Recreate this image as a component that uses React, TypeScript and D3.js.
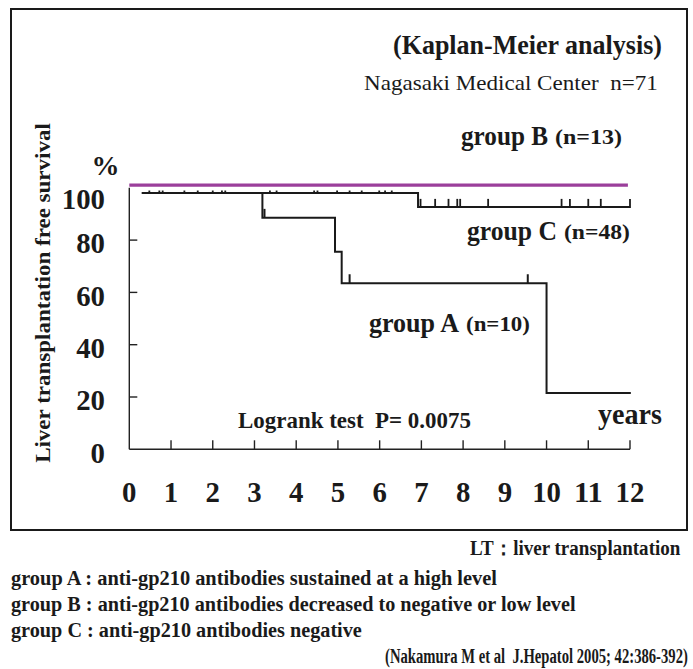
import React, { useEffect, useRef } from 'react';
import * as d3 from 'd3';

// x axis ticks (years) and y axis ticks (%)
const yearTicks = [0, 1, 2, 3, 4, 5, 6, 7, 8, 9, 10, 11, 12];
const percentTicks = [0, 20, 40, 60, 80, 100];

// Kaplan-Meier steps: [years, survival %]
const groupA = [[0.3, 98], [3.19, 88.5], [4.93, 75.5], [5.09, 63.5], [10.0, 21.5], [12.02, 21.5]];
const groupB = [[0, 101], [11.95, 101]];
const groupC = [[0.3, 98], [6.92, 92.7], [12.0, 92.7]];

// censored cases (years)
const groupACensor = [3.24, 5.28, 9.55];
const groupCCensor = [0.48, 0.72, 0.8, 1.32, 1.64, 2.0, 2.22, 2.3, 3.37, 3.53, 4.43, 4.51, 4.98, 5.28, 5.57, 5.99, 6.13, 6.29,
    6.98, 7.33, 7.65, 7.86, 7.93, 8.6, 10.36, 10.56, 11.0, 11.3, 12.0];

const footnotes = [
    'group A : anti-gp210 antibodies sustained at a high level',
    'group B : anti-gp210 antibodies decreased to negative or low level',
    'group C : anti-gp210 antibodies negative',
];
const footnoteWidths = [486, 565, 351];

const serif = '"Liberation Serif", "Times New Roman", serif';

const App = () => {
    const svgRef = useRef<SVGSVGElement | null>(null);

    useEffect(() => {
        draw();
    }, []);

    const stepAt = (steps: number[][], t: number) => {
        let s = steps[0][1];
        steps.forEach(p => { if (p[0] <= t) s = p[1]; });
        return s;
    };

    const draw = () => {
        const svg = d3.select(svgRef.current);
        svg.selectAll('*').remove();

        const x = d3.scaleLinear().domain([0, 12]).range([129.3, 630]);
        const y = d3.scaleLinear().domain([0, 100]).range([449.3, 187.8]);

        // outer frame
        svg.append('rect')
            .attr('x', 11).attr('y', 9).attr('width', 676).attr('height', 521)
            .attr('fill', 'none').attr('stroke', '#1a1a1a').attr('stroke-width', 2);

        // axes
        const ax = svg.append('g').attr('stroke', '#222').attr('stroke-width', 1.4);
        ax.append('line').attr('x1', x(0)).attr('x2', x(0)).attr('y1', y(0)).attr('y2', y(100));
        ax.append('line').attr('x1', x(0)).attr('x2', x(12)).attr('y1', y(0)).attr('y2', y(0));
        ax.selectAll('.xt').data(yearTicks.filter(d => d > 0)).enter().append('line')
            .attr('x1', d => x(d)).attr('x2', d => x(d))
            .attr('y1', y(0)).attr('y2', y(0) - 9);
        ax.selectAll('.yt').data(percentTicks.filter(d => d > 0 && d < 100)).enter().append('line')
            .attr('x1', x(0)).attr('x2', x(0) + 8)
            .attr('y1', d => y(d)).attr('y2', d => y(d));

        // text squeezed horizontally to the width it has in the figure (condensed Times look)
        const text = (s: string, px: number, py: number, size: number, opts: any = {}) => {
            const t = svg.append('text')
                .attr('x', 0).attr('y', 0)
                .attr('font-family', serif)
                .attr('font-size', size)
                .attr('font-weight', opts.weight || 'bold')
                .attr('fill', '#1a1a1a')
                .attr('dominant-baseline', 'central')
                .attr('text-anchor', opts.anchor || 'start')
                .style('white-space', 'pre')
                .text(s);
            let k = 1;
            if (opts.len) {
                const w = (t.node() as SVGTextElement).getComputedTextLength();
                if (w > 0) k = opts.len / w;
            }
            const rot = opts.rotate ? ' rotate(-90)' : '';
            t.attr('transform', `translate(${px},${py})${rot} scale(${k},1)`);
            return t;
        };

        // tick labels
        yearTicks.forEach(d => text(String(d), x(d), 492, 30, { anchor: 'middle', len: String(d).length * 14.4 }));
        percentTicks.forEach(d => text(String(d), 105, d === 100 ? 199 : y(d) + 3, 30,
            { anchor: 'end', len: String(d).length * 14.4 }));
        text('%', 105.5, 165, 28, { anchor: 'middle' });
        text('Liver transplantation free survival', 43, 293, 22, { anchor: 'middle', len: 340, rotate: true });

        // curves
        const line = d3.line<number[]>()
            .x(d => x(d[0]))
            .y(d => y(d[1]))
            .curve(d3.curveStepAfter);

        svg.append('path').datum(groupA).attr('d', line)
            .attr('fill', 'none').attr('stroke', '#1a1a1a').attr('stroke-width', 2);
        svg.append('path').datum(groupC).attr('d', line)
            .attr('fill', 'none').attr('stroke', '#1a1a1a').attr('stroke-width', 2);
        svg.append('path').datum(groupB).attr('d', line)
            .attr('fill', 'none').attr('stroke', '#9b3f9b').attr('stroke-width', 3.2);

        // censor marks
        svg.selectAll('.ca').data(groupACensor).enter().append('line')
            .attr('x1', d => x(d)).attr('x2', d => x(d))
            .attr('y1', d => y(stepAt(groupA, d))).attr('y2', d => y(stepAt(groupA, d)) - 9)
            .attr('stroke', '#1a1a1a').attr('stroke-width', 2);
        svg.selectAll('.cc').data(groupCCensor).enter().append('line')
            .attr('x1', d => x(d)).attr('x2', d => x(d))
            .attr('y1', d => y(stepAt(groupC, d)) + 1)
            .attr('y2', d => y(stepAt(groupC, d)) - (stepAt(groupC, d) > 95 ? 2.5 : 8))
            .attr('stroke', '#1a1a1a').attr('stroke-width', 1.8);

        // annotations
        text('(Kaplan-Meier analysis)', 393, 45, 28, { len: 269 });
        text('Nagasaki Medical Center  n=71', 364, 83, 22, { weight: 'normal', len: 294 });
        text('group B', 461, 136, 27, { len: 87 });
        text('(n=13)', 555, 137, 21, { len: 67 });
        text('group C', 467, 231, 27, { len: 90 });
        text('(n=48)', 564, 232, 21, { len: 66 });
        text('group A', 369, 323, 27, { len: 90 });
        text('(n=10)', 466, 324, 21, { len: 64 });
        text('Logrank test  P= 0.0075', 238, 420, 23, { len: 233 });
        text('years', 598, 414, 29, { len: 64 });

        // footnotes
        text('LT：liver transplantation', 470, 548, 20, { len: 210 });
        footnotes.forEach((f, i) => text(f, 11, 578 + i * 26, 20, { len: footnoteWidths[i] }));
        text('(Nakamura M et al  J.Hepatol 2005; 42:386-392)', 385, 655, 22, { len: 303 });
    };

    return (
        <svg ref={svgRef} width={693} height={669}
            style={{ position: 'absolute', left: 0, top: 0, background: '#fff' }} />
    );
};

export default App;
